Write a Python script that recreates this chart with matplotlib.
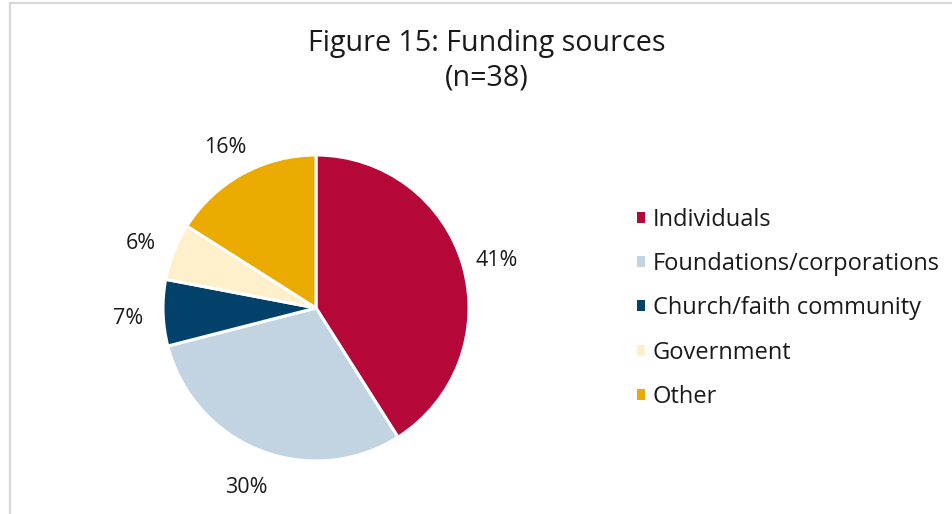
import matplotlib
matplotlib.use('Agg')
import matplotlib.pyplot as plt
from matplotlib.lines import Line2D

plt.rcParams['font.family'] = ['Open Sans', 'DejaVu Sans']

# Data
categories = ['Individuals', 'Foundations/corporations', 'Church/faith community',
              'Government', 'Other']
shares = [41, 30, 7, 6, 16]
colors = ['#B50838', '#C2D4E2', '#02426A', '#FEF0CA', '#EAAA00']

W, H = 953, 514
fig = plt.figure(figsize=(W / 100, H / 100), dpi=100)

# frame edges (cropped box)
fig.add_artist(Line2D([10 / W, 10 / W], [0, 1 - 3 / H], color='#D9D9D9', lw=1.6))
fig.add_artist(Line2D([10 / W, 1], [1 - 3 / H, 1 - 3 / H], color='#D9D9D9', lw=1.6))

# pie axes: center (316, 308), radius 153 px
cx, cy, r = 316, 308, 153
ax = fig.add_axes([(cx - r) / W, (H - cy - r) / H, 2 * r / W, 2 * r / H])
wedges, _, autotexts = ax.pie(shares, colors=colors, startangle=90, counterclock=False,
                              autopct='%d%%', pctdistance=1.23, radius=1,
                              wedgeprops=dict(edgecolor='white', linewidth=2.2))
for t in autotexts:
    t.set_fontsize(15.5)
    t.set_color('#1a1a1a')
    t.set_y(t.get_position()[1] - 0.03)
ax.set_xlim(-1, 1)
ax.set_ylim(-1, 1)
ax.set_aspect('equal')
ax.axis('off')

fig.text(487 / W, 1 - 43 / H, 'Figure 15: Funding sources', ha='center', va='center',
         fontsize=20.6, color='#1a1a1a')
fig.text(487 / W, 1 - 78 / H, '(n=38)', ha='center', va='center',
         fontsize=20.6, color='#1a1a1a')

leg = fig.legend(wedges, categories, loc='upper left', bbox_to_anchor=(625 / W, 1 - 196 / H),
                 frameon=False, fontsize=17, handlelength=0.34, handleheight=0.34,
                 handletextpad=0.34, labelspacing=0.86, borderpad=0)
for h in leg.legend_handles:
    h.set_edgecolor('none')
for t in leg.get_texts():
    t.set_color('#1a1a1a')

fig.savefig('out.png', dpi=100)
